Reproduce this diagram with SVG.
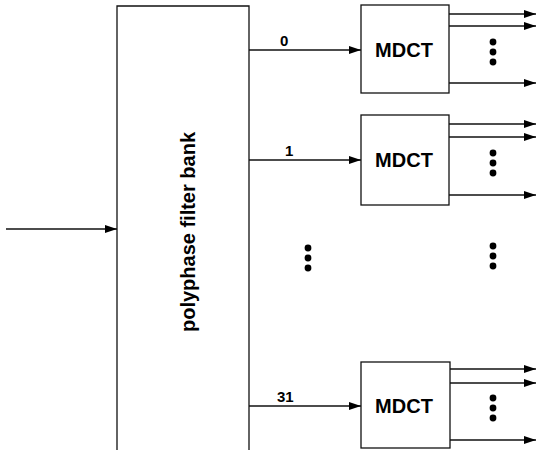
<svg xmlns="http://www.w3.org/2000/svg" width="537" height="450" viewBox="0 0 537 450">
<style>
.box{fill:#fff;stroke:#111;stroke-width:1.3}
.ln{fill:none;stroke:#111;stroke-width:1.3}
.lbl{font-family:"Liberation Sans",Arial,sans-serif;font-weight:bold;fill:#000}
.mdct{font-size:20px;text-anchor:middle}
.num{font-size:15px}
.fb{font-size:20px;text-anchor:middle}
.dot{fill:#000}
</style>
<defs>
<marker id="ah" markerWidth="12" markerHeight="8" refX="12" refY="4" orient="auto" markerUnits="userSpaceOnUse">
<path d="M0,0 L12,4 L0,8 Z" fill="#000"/>
</marker>
<g id="vd"><circle cx="0" cy="-10" r="3.4"/><circle cx="0" cy="0" r="3.4"/><circle cx="0" cy="10" r="3.4"/></g>
</defs>

<g id="filterbank">
<path class="ln" d="M117,452 V6 H249 V452"/>
<text class="lbl fb" transform="translate(195,232) rotate(-90)">polyphase filter bank</text>
</g>

<g id="mdct0">
<rect class="box" x="361" y="5" width="88" height="88"/>
<text class="lbl mdct" x="404" y="57">MDCT</text>
</g>
<g id="mdct1">
<rect class="box" x="361" y="115" width="88" height="90"/>
<text class="lbl mdct" x="404" y="167">MDCT</text>
</g>
<g id="mdct31">
<rect class="box" x="361" y="362" width="89" height="86"/>
<text class="lbl mdct" x="404" y="413">MDCT</text>
</g>

<g id="connectors">
<line class="ln" x1="6" y1="229" x2="117" y2="229" marker-end="url(#ah)"/>
<line class="ln" x1="249" y1="50" x2="361" y2="50" marker-end="url(#ah)"/>
<line class="ln" x1="249" y1="160" x2="361" y2="160" marker-end="url(#ah)"/>
<line class="ln" x1="249" y1="406" x2="361" y2="406" marker-end="url(#ah)"/>
<line class="ln" x1="449" y1="14" x2="536" y2="14" marker-end="url(#ah)"/>
<line class="ln" x1="449" y1="26" x2="536" y2="26" marker-end="url(#ah)"/>
<line class="ln" x1="449" y1="83" x2="536" y2="83" marker-end="url(#ah)"/>
<line class="ln" x1="449" y1="124" x2="536" y2="124" marker-end="url(#ah)"/>
<line class="ln" x1="449" y1="137" x2="536" y2="137" marker-end="url(#ah)"/>
<line class="ln" x1="449" y1="195" x2="536" y2="195" marker-end="url(#ah)"/>
<line class="ln" x1="450" y1="369" x2="536" y2="369" marker-end="url(#ah)"/>
<line class="ln" x1="450" y1="383" x2="536" y2="383" marker-end="url(#ah)"/>
<line class="ln" x1="450" y1="440" x2="536" y2="440" marker-end="url(#ah)"/>
</g>

<g id="labels">
<text class="lbl num" x="280" y="46">0</text>
<text class="lbl num" x="285" y="156">1</text>
<text class="lbl num" x="277" y="402">31</text>
</g>

<g id="ellipses" class="dot">
<use href="#vd" x="493" y="52"/>
<use href="#vd" x="493" y="163"/>
<use href="#vd" x="308" y="258"/>
<use href="#vd" x="493" y="256"/>
<use href="#vd" x="493" y="408"/>
</g>
</svg>
